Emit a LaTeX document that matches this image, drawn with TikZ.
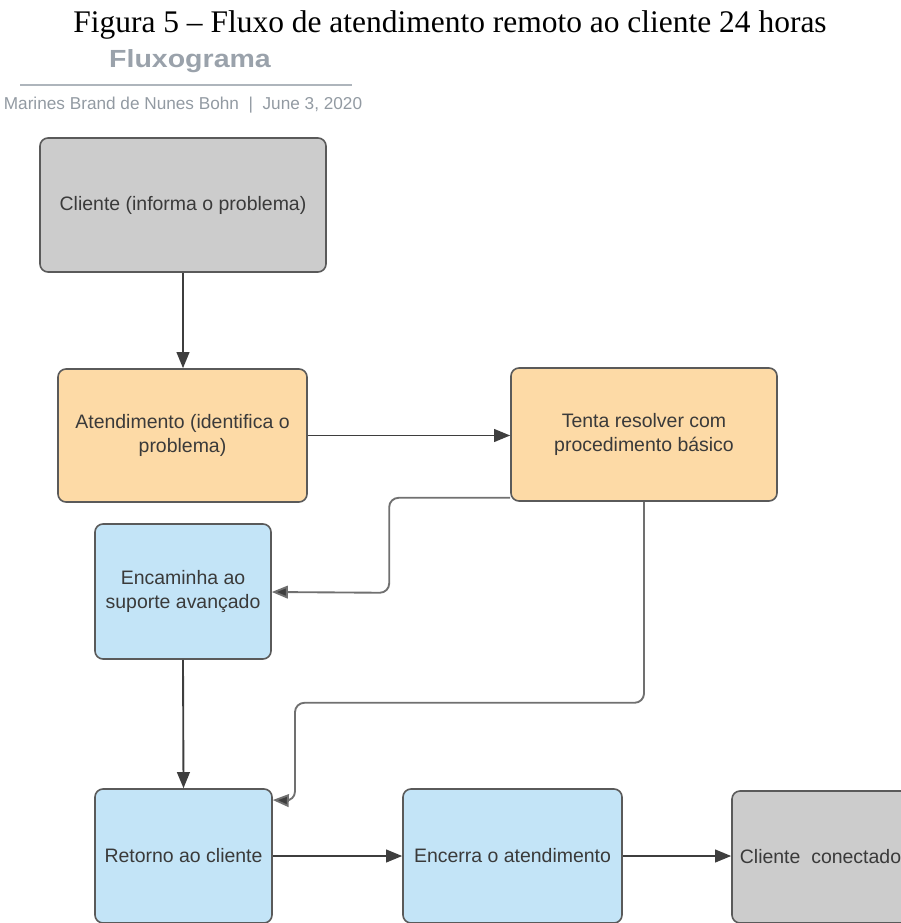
\documentclass[tikz,border=0pt]{standalone}
\usepackage{fontspec}
\setmainfont{Liberation Sans}
\newfontfamily\titlefont{Liberation Serif}
\usetikzlibrary{arrows.meta}
\definecolor{boxgray}{HTML}{CCCCCC}
\definecolor{boxorange}{HTML}{FDDAA6}
\definecolor{boxblue}{HTML}{C3E4F7}
\definecolor{edgecol}{HTML}{5A5A5A}
\definecolor{linecol}{HTML}{3E3E3E}
\definecolor{linecoltwo}{HTML}{707070}
\definecolor{txtcol}{HTML}{3A3A3A}
\definecolor{headgray}{HTML}{9AA2AB}
\tikzset{
  flowbox/.style={draw=edgecol, line width=1.2pt, rounded corners=6pt, align=center,
    text=txtcol, font=\fontsize{14.6}{18}\selectfont, inner sep=2pt},
  graybox/.style={flowbox, fill=boxgray},
  orangebox/.style={flowbox, fill=boxorange},
  bluebox/.style={flowbox, fill=boxblue},
  conn/.style={draw=linecol, line width=1.4pt, -{Triangle[length=12pt,width=9.5pt]}},
  conntwo/.style={draw=linecoltwo, line width=1.4pt, rounded corners=7pt, -{Triangle[length=12pt,width=9.5pt,fill=linecol]}}
}
\begin{document}
\begin{tikzpicture}[x=0.75pt,y=-0.75pt]
\useasboundingbox (0,0) rectangle (900,923);
% header
\node[font=\titlefont\fontsize{23.6}{27}\selectfont, anchor=base] (title) at (450,33) {Figura 5 – Fluxo de atendimento remoto ao cliente 24 horas};
\node[font=\bfseries\fontsize{18.6}{22}\selectfont, text=headgray, anchor=base] (flux) at (190,68) {\scalebox{1.15}[1]{Fluxograma}};
\coordinate (hl) at (20,85);
\coordinate (hr) at (352,85);
\draw[draw=headgray!80, line width=1.4pt] (hl) -- (hr);
\node[font=\fontsize{12.9}{15}\selectfont, text=headgray!95!black, anchor=base] (auth) at (183,110) {Marines Brand de Nunes Bohn \ | \ June 3, 2020};
% boxes
\node[graybox, minimum width=214.5pt, minimum height=100.5pt] (c1) at (183,205) {Cliente (informa o problema)};
\node[orangebox, minimum width=186.75pt, minimum height=99.75pt] (a) at (182.5,435.5) {Atendimento (identifica o\\problema)};
\node[orangebox, minimum width=199.5pt, minimum height=99.75pt] (t) at (644,434.5) {Tenta resolver com\\procedimento básico};
\node[bluebox, minimum width=132pt, minimum height=101.25pt] (e) at (183,591.5) {Encaminha ao\\suporte avançado};
\node[bluebox, minimum width=132.75pt, minimum height=100.5pt] (r) at (183.5,856) {Retorno ao cliente};
\node[bluebox, minimum width=164.25pt, minimum height=100.5pt] (en) at (512.5,856) {Encerra o atendimento};
\node[graybox, minimum width=132.75pt, minimum height=99pt] (cc) at (820.5,857) {Cliente\ \ conectado};
% connectors
\draw[conn] (c1.south) -- (c1.south |- a.north);
\draw[conn] (a.east) -- (t.west |- a.east);
\draw[conntwo] ([yshift=3pt]t.south west) -- ++(-121,0) -- ++(0,95) -- (e.east |- 0,592);
\draw[conntwo] (t.south) -- ++(0,201) -- ++(-349,0) -- ++(0,98) -- ([yshift=42pt]r.east);
\draw[conn] (e.south) -- (r.north);
\draw[conn] (r.east) -- (en.west);
\draw[conn] (en.east) -- (cc.west |- en.east);
\end{tikzpicture}
\end{document}
